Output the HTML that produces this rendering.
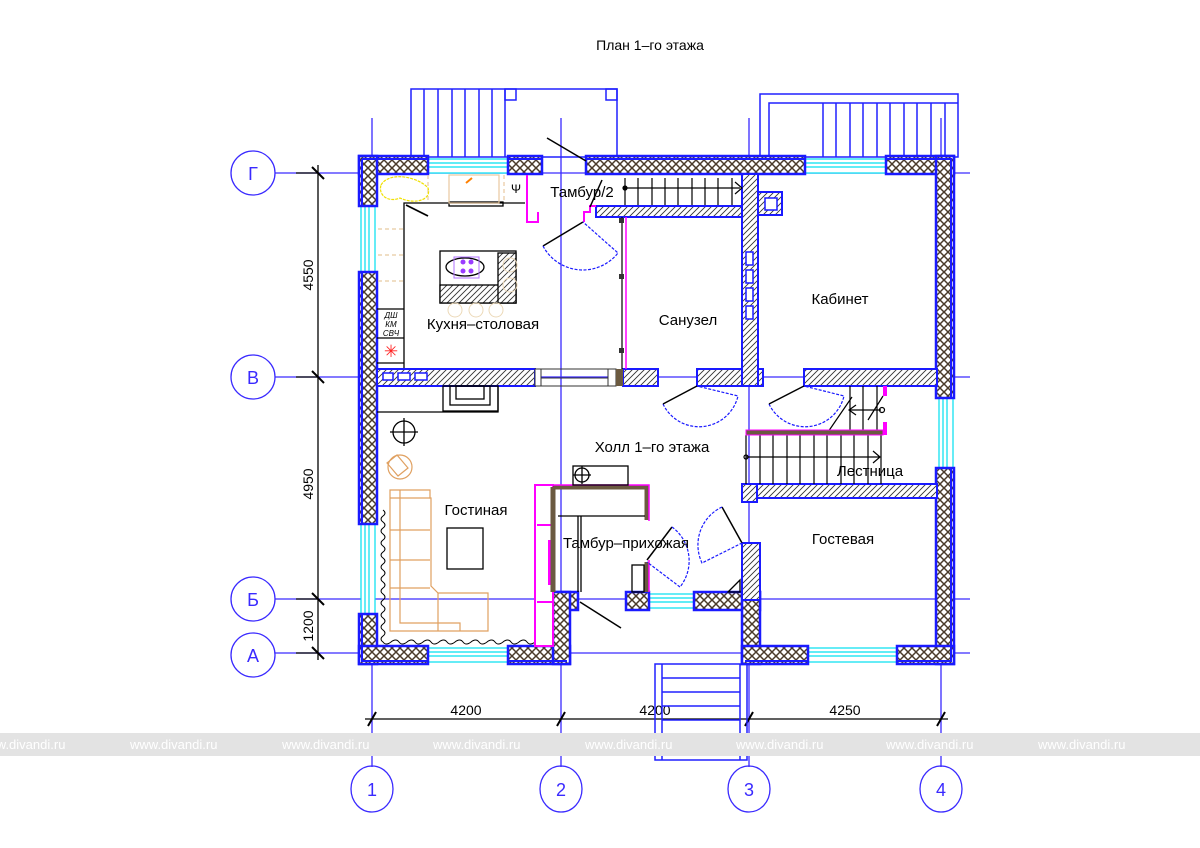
<!DOCTYPE html>
<html><head><meta charset="utf-8"><style>
html,body{margin:0;padding:0;background:#fff;width:1200px;height:848px;overflow:hidden}
svg{display:block}
text{font-family:"Liberation Sans","DejaVu Sans",sans-serif}
</style></head><body>
<svg width="1200" height="848" viewBox="0 0 1200 848" xmlns="http://www.w3.org/2000/svg">
<defs>
<pattern id="cr" width="8" height="8" patternUnits="userSpaceOnUse">
<rect width="8" height="8" fill="#fff"/>
<path d="M0 0L8 8M8 0L0 8" stroke="#4a3a2a" stroke-width="1.5"/>
</pattern>
<pattern id="dg" width="6" height="6" patternUnits="userSpaceOnUse">
<rect width="6" height="6" fill="#fff"/>
<path d="M-1 7L7 -1M-1 1L1 -1M5 7L7 5" stroke="#333" stroke-width="0.9"/>
</pattern>
</defs>

<text x="650" y="50" font-size="14" text-anchor="middle" fill="#000">План 1–го этажа</text>

<g stroke="#3a2aff" stroke-width="1.3" fill="none">
<line x1="372" y1="118" x2="372" y2="767"/>
<line x1="561" y1="118" x2="561" y2="767"/>
<line x1="749" y1="118" x2="749" y2="767"/>
<line x1="941" y1="118" x2="941" y2="767"/>
<line x1="275" y1="173" x2="970" y2="173"/>
<line x1="275" y1="377" x2="970" y2="377"/>
<line x1="275" y1="599" x2="970" y2="599"/>
<line x1="275" y1="653" x2="970" y2="653"/>
<circle cx="253" cy="173" r="22"/>
<circle cx="253" cy="377" r="22"/>
<circle cx="253" cy="599" r="22"/>
<circle cx="253" cy="655" r="22"/>
<ellipse cx="372" cy="789" rx="21" ry="23"/>
<ellipse cx="561" cy="789" rx="21" ry="23"/>
<ellipse cx="749" cy="789" rx="21" ry="23"/>
<ellipse cx="941" cy="789" rx="21" ry="23"/>
</g>
<g fill="#3a2aff" font-size="18" text-anchor="middle">
<text x="253" y="180">Г</text><text x="253" y="384">В</text><text x="253" y="606">Б</text><text x="253" y="662">А</text>
<text x="372" y="796">1</text><text x="561" y="796">2</text><text x="749" y="796">3</text><text x="941" y="796">4</text>
</g>

<g stroke="#000" stroke-width="1.3">
<line x1="318" y1="165" x2="318" y2="660"/>
<line x1="296" y1="173" x2="318" y2="173"/><line x1="296" y1="377" x2="318" y2="377"/>
<line x1="296" y1="599" x2="318" y2="599"/><line x1="296" y1="653" x2="318" y2="653"/>
<path d="M312 167l12 12M312 371l12 12M312 593l12 12M312 647l12 12" stroke-width="2"/>
<line x1="365" y1="719" x2="948" y2="719"/>
<path d="M368 726l8 -14M557 726l8 -14M745 726l8 -14M937 726l8 -14" stroke-width="2"/>
</g>
<g font-size="14" fill="#000" text-anchor="middle">
<text transform="translate(313 275) rotate(-90)">4550</text>
<text transform="translate(313 484) rotate(-90)">4950</text>
<text transform="translate(313 626) rotate(-90)">1200</text>
<text x="466" y="715">4200</text><text x="655" y="715">4200</text><text x="845" y="715">4250</text>
</g>

<g stroke="#2020ff" stroke-width="1.5" fill="none">
<rect x="411" y="89" width="206" height="68"/>
<rect x="505" y="89" width="11" height="11"/><rect x="606" y="89" width="11" height="11"/>
<path d="M424 89V157M438 89V157M452 89V157M465 89V157M479 89V157M492 89V157M505 89V157"/>
<rect x="760" y="94" width="198" height="63"/>
<path d="M769 157V103H958"/>
<path d="M823 103V157M836 103V157M850 103V157M863 103V157M877 103V157M890 103V157M904 103V157M917 103V157M931 103V157M945 103V157"/>
<rect x="655" y="664" width="92" height="96"/>
<path d="M662 664V760M740 664V760M662 678H740M662 692H740M662 706H740M662 720H740M662 734H740M662 748H740"/>
</g>

<g stroke="#00e0f0" stroke-width="1.2" fill="#fff">
<rect x="427" y="159" width="81" height="14"/><path d="M427 163H508M427 167H508" fill="none"/>
<rect x="805" y="159" width="81" height="14"/><path d="M805 163H886M805 167H886" fill="none"/>
<rect x="361" y="206" width="14" height="66"/><path d="M365 206V272M369 206V272" fill="none"/>
<rect x="361" y="524" width="14" height="90"/><path d="M365 524V614M369 524V614" fill="none"/>
<rect x="427" y="648" width="81" height="14"/><path d="M427 652H508M427 656H508" fill="none"/>
<rect x="808" y="648" width="89" height="14"/><path d="M808 652H897M808 656H897" fill="none"/>
<rect x="939" y="398" width="14" height="70"/><path d="M943 398V468M947 398V468" fill="none"/>
<rect x="649" y="594" width="45" height="14"/><path d="M649 598H694M649 602H694" fill="none"/>
</g>

<g fill="url(#cr)" stroke="#1a1aff" stroke-width="2.5">
<rect x="359" y="156" width="69" height="18"/>
<rect x="359" y="156" width="18" height="50"/>
<rect x="508" y="156" width="34" height="18"/>
<rect x="586" y="156" width="219" height="18"/>
<rect x="886" y="156" width="68" height="18"/>
<rect x="936" y="156" width="18" height="242"/>
<rect x="936" y="468" width="18" height="196"/>
<rect x="359" y="272" width="18" height="252"/>
<rect x="359" y="614" width="18" height="50"/>
<rect x="359" y="646" width="69" height="18"/>
<rect x="508" y="646" width="62" height="18"/>
<rect x="553" y="592" width="25" height="18"/>
<rect x="553" y="592" width="17" height="72"/>
<rect x="626" y="592" width="23" height="18"/>
<rect x="694" y="592" width="66" height="18"/>
<rect x="742" y="592" width="18" height="72"/>
<rect x="742" y="646" width="66" height="18"/>
<rect x="897" y="646" width="57" height="18"/>
</g>
<g stroke="#1a1aff" stroke-width="2" fill="none">
<path d="M362 159H428M362 159V206M508 159H542M586 159H805M886 159H951V398M951 468V661H897M362 272V524M362 614V661H428M508 661H567M745 661H808"/>
</g>

<g fill="url(#dg)" stroke="#1a1aff" stroke-width="2">
<rect x="377" y="369" width="158" height="17"/>
<rect x="623" y="369" width="35" height="17"/>
<rect x="697" y="369" width="66" height="17"/>
<rect x="804" y="369" width="133" height="17"/>
<rect x="742" y="174" width="16" height="212"/>
<rect x="758" y="192" width="24" height="23"/>
<rect x="596" y="206" width="146" height="11"/>
<rect x="742" y="484" width="195" height="14"/>
<rect x="742" y="484" width="15" height="18"/>
<rect x="742" y="543" width="18" height="57"/>
</g>
<g fill="#fff" stroke="#1a1aff" stroke-width="1.5">
<rect x="765" y="198" width="12" height="12"/>
<rect x="746" y="252" width="7" height="13"/><rect x="746" y="270" width="7" height="13"/><rect x="746" y="288" width="7" height="13"/><rect x="746" y="306" width="7" height="13"/>
<rect x="383" y="373" width="10" height="7"/><rect x="398" y="373" width="12" height="7"/><rect x="415" y="373" width="12" height="7"/>
</g>
<g stroke="#333" stroke-width="1" fill="#fff">
<rect x="535" y="369" width="6" height="17"/><rect x="608" y="369" width="8" height="17"/>
<path d="M541 369H608M541 386H608M541 378H608"/>
</g>
<rect x="616" y="369" width="7" height="17" fill="#6b5a40"/>

<g stroke="#000" stroke-width="1.2" fill="none">
<path d="M625 178V205M638 178V205M652 178V205M665 178V205M678 178V205M692 178V205M705 178V205M718 178V205M732 178V205"/>
<path d="M625 188H740M735 182L742 188L735 194"/>
<circle cx="625" cy="188" r="2" fill="#000"/>
<path d="M622 217V369"/>
</g>
<path d="M626 217V369" stroke="#ff00ff" stroke-width="1.5"/>
<g fill="#333"><rect x="619" y="218" width="5" height="5"/><rect x="619" y="274" width="5" height="5"/><rect x="619" y="348" width="5" height="5"/></g>

<path d="M527 175V222H538V212" stroke="#ff00ff" stroke-width="2" fill="none"/>
<path d="M584 222V212H590V206H596" stroke="#ff00ff" stroke-width="2" fill="none"/>
<line x1="547" y1="138" x2="586" y2="161" stroke="#000" stroke-width="1.5"/>
<line x1="543" y1="246" x2="583" y2="222" stroke="#000" stroke-width="1.5"/>
<path d="M543 246A45 45 0 0 0 618 253L583 222" stroke="#1a1aff" stroke-width="1.2" stroke-dasharray="3 1.5" fill="none"/>
<line x1="602" y1="180" x2="590" y2="207" stroke="#000" stroke-width="1.5"/>

<g stroke="#000" stroke-width="1.3" fill="none">
<path d="M404 368V203H525"/>
<rect x="449" y="202" width="54" height="4"/>
<path d="M377 309H404M377 338H404M377 363H404"/>
<line x1="406" y1="205" x2="428" y2="216" stroke-width="1.8"/>
<rect x="440" y="251" width="76" height="52"/>
<rect x="440" y="285" width="76" height="18" fill="url(#dg)"/>
<rect x="498" y="253" width="18" height="50" fill="url(#dg)"/>
<ellipse cx="465" cy="267" rx="19" ry="9"/>
</g>
<g stroke="#e8c9a0" stroke-width="1.2" fill="none" stroke-dasharray="4 3">
<path d="M378 229H404M378 255H404M378 281H404"/>
<rect x="449" y="175" width="50" height="28" stroke-dasharray="none"/>
<path d="M428 175V203M504 175V203"/>
</g>
<g stroke="#ecd9b8" fill="none"><circle cx="510" cy="265" r="7"/><circle cx="510" cy="285" r="7"/><circle cx="455" cy="310" r="7"/><circle cx="476" cy="310" r="7"/><circle cx="496" cy="310" r="7"/></g>
<path d="M381 185C390 170 420 178 428 188C432 200 415 205 400 198C388 203 378 195 381 185Z" stroke="#f0e000" fill="none" stroke-width="1.2" stroke-dasharray="3 1"/>
<line x1="466" y1="183" x2="472" y2="178" stroke="#ff8000" stroke-width="2"/>
<g fill="#9a3cff"><circle cx="463" cy="262" r="2.5"/><circle cx="471" cy="262" r="2.5"/><circle cx="463" cy="271" r="2.5"/><circle cx="471" cy="271" r="2.5"/></g>
<rect x="454" y="257" width="25" height="21" fill="none" stroke="#b070ff" stroke-width="1"/>
<text x="391" y="318" font-size="8" font-style="italic" fill="#000" text-anchor="middle">ДШ</text>
<text x="391" y="327" font-size="8" font-style="italic" fill="#000" text-anchor="middle">КМ</text>
<text x="391" y="336" font-size="8" font-style="italic" fill="#000" text-anchor="middle">СВЧ</text>
<text x="391" y="357" font-size="17" fill="#ff2020" text-anchor="middle">✳</text>
<text x="516" y="193" font-size="12" fill="#000" text-anchor="middle">Ψ</text>

<g stroke="#000" stroke-width="1.3" fill="none">
<path d="M377 412H498V386"/>
<rect x="443" y="386" width="55" height="25"/>
<rect x="450" y="386" width="40" height="19"/>
<rect x="456" y="386" width="28" height="13"/>
<circle cx="404" cy="432" r="11"/><path d="M390 432H418M404 418V446"/>
<rect x="447" y="528" width="36" height="41"/>
<path d="M383 510q4 3 0 6t0 6 0 6 0 6 0 6 0 6 0 6 0 6 0 6 0 6 0 6 0 6 0 6 0 6 0 6 0 6 0 6 0 6 0 6 0 6 0 6 0 6 q3 4 8 0t8 0 8 0 8 0 8 0 8 0 8 0 8 0 8 0 8 0 8 0 8 0 8 0 8 0 8 0 8 0 8 0 8 0 8 0 8 0" stroke-width="1"/>
</g>
<g stroke="#e0a060" stroke-width="1.2" fill="none">
<path d="M390 490H430V498H431V586L438 593H488V631H390Z"/>
<path d="M400 490V623H460V631M390 498H430M390 530H430M390 560H430M390 588H430M438 593V631"/>
<circle cx="400" cy="467" r="12"/><path d="M387 463L397 455L408 468L398 476Z"/>
</g>

<rect x="535" y="485" width="18" height="161" fill="#fff" stroke="#ff00ff" stroke-width="2"/>
<path d="M537 525H553M537 602H553" stroke="#ff00ff" stroke-width="2"/>
<rect x="548" y="540" width="3" height="45" fill="#ff00ff"/>
<path d="M553 487V592M553 487H647V520M647 562V592" stroke="#6b5a40" stroke-width="5" fill="none"/>
<path d="M551 485H649V521M649 560V592" stroke="#ff00ff" stroke-width="1.5" fill="none"/>
<g stroke="#000" stroke-width="1.3" fill="none">
<path d="M558 516H645M578 516V592M581 516V592"/>
<rect x="573" y="466" width="55" height="19"/>
<circle cx="582" cy="475" r="7"/><path d="M573 475H591M582 466V484"/>
<rect x="632" y="565" width="12" height="27"/>
<line x1="580" y1="602" x2="621" y2="628" stroke-width="1.5"/>
<line x1="647" y1="560" x2="672" y2="527" stroke-width="1.5"/>
<line x1="742" y1="543" x2="722" y2="507" stroke-width="1.5"/>
<path d="M728 592L740 580V592Z"/>
</g>
<g stroke="#1a1aff" stroke-width="1.2" stroke-dasharray="3 1.5" fill="none">
<path d="M672 527A42 42 0 0 1 680 587L647 562"/>
<path d="M722 507A42 42 0 0 0 702 563L742 543"/>
<path d="M663 404A40 40 0 0 0 738 396L697 386"/>
<path d="M769 404A40 40 0 0 0 844 396L804 386"/>
</g>
<g stroke="#000" stroke-width="1.5"><line x1="697" y1="386" x2="663" y2="404"/><line x1="804" y1="386" x2="769" y2="404"/></g>

<g stroke="#000" stroke-width="1.2" fill="none">
<path d="M746 435V484M760 435V484M773 435V484M787 435V484M800 435V484M814 435V484M827 435V484M841 435V484M854 435V484M868 435V484M881 435V484"/>
<path d="M850 386V430M863 386V430M877 386V430"/>
<path d="M746 457H880M873 451L880 457L873 463"/>
<circle cx="746" cy="457" r="2"/>
<path d="M881 410H849M856 405L849 410L856 415M828 432L852 397M868 420L883 396"/>
<circle cx="882" cy="410" r="2.5"/>
</g>
<rect x="746" y="430" width="137" height="5" fill="#6b5a40" stroke="#ff00ff" stroke-width="1"/>
<path d="M885 386V396M885 422V435" stroke="#ff00ff" stroke-width="4"/>

<g font-size="15" fill="#000" text-anchor="middle">
<text x="582" y="197">Тамбур/2</text>
<text x="483" y="329">Кухня–столовая</text>
<text x="688" y="325">Санузел</text>
<text x="840" y="304">Кабинет</text>
<text x="652" y="452">Холл 1–го этажа</text>
<text x="870" y="476">Лестница</text>
<text x="476" y="515">Гостиная</text>
<text x="626" y="548">Тамбур–прихожая</text>
<text x="843" y="544">Гостевая</text>
</g>

<rect x="0" y="733" width="1200" height="23" fill="#e3e3e3"/>
<g font-size="13" fill="#fff">
<text x="-22" y="749">www.divandi.ru</text><text x="130" y="749">www.divandi.ru</text><text x="282" y="749">www.divandi.ru</text>
<text x="433" y="749">www.divandi.ru</text><text x="585" y="749">www.divandi.ru</text><text x="736" y="749">www.divandi.ru</text>
<text x="886" y="749">www.divandi.ru</text><text x="1038" y="749">www.divandi.ru</text>
</g>
</svg>
</body></html>
